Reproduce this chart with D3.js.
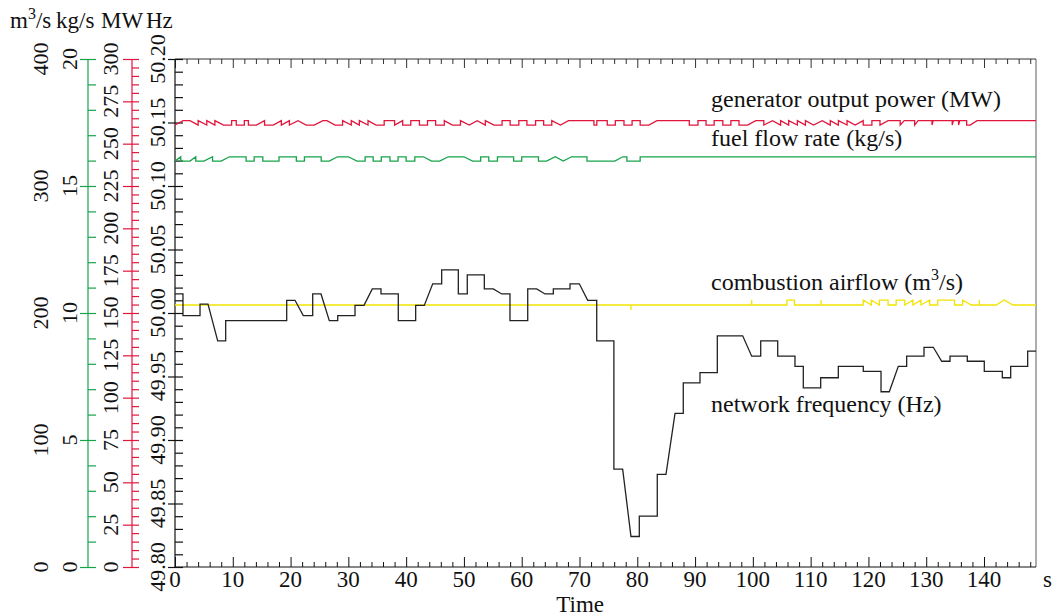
<!DOCTYPE html>
<html>
<head>
<meta charset="utf-8">
<script src="https://cdn.jsdelivr.net/npm/d3@7"></script>
<style>
  body { margin: 0; background: #fff; }
  svg text { font-family: "Liberation Serif", "DejaVu Serif", serif; fill: #111; }
</style>
</head>
<body>
<div id="chart"></div>
<script>
// ---- data (time in s) ----
const freqPoints = [
  [0, 50.015], [1.38, 50.015], [1.38, 49.998], [4.33, 49.998], [4.33, 50.007], [5.71, 50.007],
  [7.39, 49.978], [8.77, 49.978], [8.77, 49.994], [19.33, 49.994], [19.33, 50.010], [20.77, 50.010],
  [22.20, 49.998], [23.83, 49.998], [23.83, 50.015], [25.27, 50.015], [26.70, 49.994], [28.16, 49.994],
  [28.16, 49.998], [31.15, 49.998], [31.15, 50.006], [32.71, 50.006], [34.14, 50.019], [35.65, 50.019],
  [35.65, 50.015], [38.64, 50.015], [38.64, 49.994], [41.65, 49.994], [41.65, 50.006], [43.14, 50.006],
  [44.60, 50.023], [46.15, 50.023], [46.15, 50.034], [49.03, 50.034], [49.03, 50.015], [50.58, 50.015],
  [50.58, 50.030], [53.53, 50.030], [53.53, 50.019], [55.08, 50.019], [56.54, 50.015], [57.97, 50.015],
  [57.97, 49.994], [61.04, 49.994], [61.04, 50.019], [62.59, 50.019], [64.03, 50.015], [65.47, 50.015],
  [65.47, 50.019], [68.36, 50.019], [68.36, 50.023], [69.97, 50.023], [71.42, 50.010], [72.98, 50.010],
  [72.98, 49.978], [75.95, 49.978], [75.95, 49.877], [77.47, 49.877], [78.91, 49.824], [80.35, 49.824],
  [80.35, 49.840], [83.46, 49.840], [83.46, 49.873], [84.97, 49.873], [86.53, 49.921], [87.96, 49.921],
  [87.96, 49.945], [90.85, 49.945], [90.85, 49.953], [93.85, 49.953], [93.85, 49.982], [98.24, 49.982],
  [99.80, 49.966], [101.36, 49.966], [101.36, 49.978], [104.30, 49.978], [104.30, 49.966], [107.29, 49.966],
  [107.29, 49.958], [108.73, 49.958], [108.73, 49.941], [111.74, 49.941], [111.74, 49.949], [114.79, 49.949],
  [114.79, 49.958], [119.11, 49.958], [119.11, 49.954], [122.18, 49.954], [122.18, 49.938], [123.61, 49.938],
  [125.17, 49.958], [126.62, 49.958], [126.62, 49.966], [129.62, 49.966], [129.62, 49.973], [131.23, 49.973],
  [132.68, 49.962], [134.12, 49.962], [134.12, 49.966], [137.11, 49.966], [137.11, 49.962], [140.05, 49.962],
  [140.05, 49.954], [143.17, 49.954], [143.17, 49.949], [144.62, 49.949], [144.62, 49.958], [147.56, 49.958],
  [147.56, 49.970], [149, 49.970]
];

const powerPoints = [
  [0, 261.0], [1.4, 263.6], [2.6, 263.6], [4.0, 261.0], [4.0, 263.6], [5.5, 261.0], [5.5, 263.6],
  [6.9, 261.0], [6.9, 263.6], [8.4, 261.0], [9.8, 261.0], [9.8, 263.6], [10.6, 263.6], [10.6, 261.0],
  [12.0, 261.0], [12.0, 263.6], [12.7, 263.6], [12.7, 261.0], [14.1, 261.0], [15.5, 263.6], [15.5, 261.0],
  [17.0, 261.0], [18.4, 263.6], [18.4, 261.0], [19.8, 263.6], [19.8, 261.0], [21.3, 263.6], [22.7, 261.0],
  [24.1, 261.0], [25.6, 263.6], [26.3, 263.6], [27.7, 261.0], [29.0, 261.0], [29.0, 263.6], [30.5, 261.0],
  [30.5, 263.6], [31.9, 261.0], [31.9, 263.6], [33.4, 261.0], [33.4, 263.6], [34.8, 261.0], [36.2, 261.0],
  [36.2, 263.6], [38.0, 263.6], [38.0, 261.0], [39.4, 263.6], [39.4, 261.0], [40.8, 261.0], [40.8, 263.6],
  [42.3, 263.6], [42.3, 261.0], [43.7, 261.0], [43.7, 263.6], [45.1, 263.6], [45.1, 261.0], [46.6, 261.0],
  [46.6, 263.6], [48.0, 261.0], [49.4, 261.0], [49.4, 263.6], [50.9, 261.0], [52.3, 263.6], [53.7, 261.0],
  [53.7, 263.6], [55.2, 261.0], [56.6, 261.0], [56.6, 263.6], [58.0, 263.6], [58.0, 261.0], [59.5, 261.0],
  [59.5, 263.6], [60.9, 263.6], [60.9, 261.0], [62.4, 261.0], [62.4, 263.6], [63.8, 263.6], [63.8, 261.0],
  [65.2, 261.0], [65.2, 263.6], [66.7, 261.0], [68.1, 263.6], [72.5, 263.6], [72.5, 261.0], [73.0, 261.0],
  [73.0, 263.6], [74.8, 263.6], [74.8, 261.0], [76.2, 261.0], [76.2, 263.6], [77.7, 263.6], [77.7, 261.0],
  [79.1, 261.0], [79.1, 263.6], [80.5, 263.6], [80.5, 261.0], [82.0, 261.0], [83.4, 263.6], [89.0, 263.6],
  [89.0, 261.0], [90.5, 261.0], [90.5, 263.6], [91.9, 263.6], [91.9, 261.0], [93.3, 261.0], [93.3, 263.6],
  [94.8, 263.6], [94.8, 261.0], [96.2, 261.0], [96.2, 263.6], [97.6, 263.6], [97.6, 261.0], [99.1, 261.0],
  [100.5, 263.6], [101.9, 263.6], [101.9, 261.0], [103.4, 263.6], [104.8, 261.0], [104.8, 263.6],
  [106.2, 261.0], [106.2, 263.6], [107.7, 261.0], [107.7, 263.6], [109.1, 261.0], [109.1, 263.6],
  [110.5, 261.0], [112.0, 263.6], [113.4, 261.0], [113.4, 263.6], [114.8, 261.0], [114.8, 263.6],
  [116.3, 261.0], [116.3, 263.6], [117.7, 261.0], [119.1, 263.6], [119.1, 261.0], [120.6, 261.0],
  [120.6, 263.6], [122.0, 263.6], [122.0, 261.0], [123.4, 263.6], [125.5, 263.6], [125.5, 261.0],
  [126.2, 263.6], [128.0, 263.6], [128.0, 261.0], [128.6, 263.6], [131.0, 263.6], [131.0, 261.0],
  [131.2, 263.6], [134.5, 263.6], [134.5, 261.0], [134.7, 263.6], [135.6, 263.6], [135.6, 261.0],
  [135.8, 263.6], [137.0, 263.6], [137.0, 261.0], [137.6, 261.0], [138.8, 263.6], [149, 263.6]
];

const fuelPoints = [
  [0, 15.98], [1.0, 16.15], [1.0, 15.98], [2.6, 15.98], [3.6, 16.15], [3.6, 15.98], [5.0, 15.98],
  [6.5, 16.15], [6.5, 15.98], [8.0, 15.98], [9.4, 16.15], [12.3, 16.15], [12.3, 15.98], [13.7, 15.98],
  [13.7, 16.15], [15.2, 16.15], [15.2, 15.98], [18.0, 15.98], [18.0, 16.15], [21.0, 16.15], [21.0, 15.98],
  [22.4, 15.98], [22.4, 16.15], [25.3, 16.15], [25.3, 15.98], [26.7, 15.98], [28.1, 16.15], [30.0, 16.15],
  [31.5, 15.98], [32.9, 15.98], [32.9, 16.15], [34.3, 16.15], [34.3, 15.98], [35.7, 15.98], [35.7, 16.15],
  [37.2, 16.15], [37.2, 15.98], [38.6, 15.98], [38.6, 16.15], [40.0, 16.15], [40.0, 15.98], [41.5, 15.98],
  [41.5, 16.15], [43.0, 16.15], [44.4, 15.98], [45.8, 15.98], [47.3, 16.15], [50.0, 16.15], [51.5, 15.98],
  [52.9, 15.98], [52.9, 16.15], [54.3, 16.15], [54.3, 15.98], [55.8, 15.98], [55.8, 16.15], [58.6, 16.15],
  [58.6, 15.98], [60.0, 15.98], [60.0, 16.15], [62.9, 16.15], [62.9, 15.98], [64.3, 15.98], [65.8, 16.15],
  [67.2, 15.98], [68.6, 16.15], [71.3, 16.15], [71.3, 15.98], [76.1, 15.98], [77.5, 16.15], [78.2, 16.15],
  [78.2, 15.98], [80.5, 15.98], [80.5, 16.15], [149, 16.15]
];

const airPoints = [
  [0, 206.3], [78.9, 206.3], [78.9, 202.4], [78.9, 206.3], [99.8, 206.3], [99.8, 210.2], [99.8, 206.3],
  [105.9, 206.3], [105.9, 210.2], [107.2, 210.2], [107.2, 206.3], [111.8, 206.3], [111.8, 210.2],
  [111.8, 206.3], [119.1, 206.3], [119.1, 210.2], [120.5, 206.3], [120.5, 210.2], [121.9, 206.3],
  [121.9, 210.2], [123.4, 210.2], [123.4, 206.3], [124.8, 206.3], [124.8, 210.2], [126.3, 210.2],
  [126.3, 206.3], [127.7, 210.2], [127.7, 206.3], [129.1, 210.2], [129.1, 206.3], [130.6, 210.2],
  [130.6, 206.3], [132.0, 206.3], [132.0, 210.2], [134.9, 210.2], [134.9, 206.3], [136.3, 206.3],
  [136.3, 210.2], [137.8, 206.3], [139.2, 206.3], [139.2, 210.2], [139.2, 206.3], [142.1, 206.3],
  [143.5, 210.2], [145.0, 206.3], [149, 206.3]
];

const timeTicks = [0, 10, 20, 30, 40, 50, 60, 70, 80, 90, 100, 110, 120, 130, 140];
const hzTicks = [49.80, 49.85, 49.90, 49.95, 50.00, 50.05, 50.10, 50.15, 50.20];
const mwTicks = [0, 25, 50, 75, 100, 125, 150, 175, 200, 225, 250, 275, 300];
const kgTicks = [0, 5, 10, 15, 20];
const airTicks = [0, 100, 200, 300, 400];

const colors = { freq: "#222222", power: "#e0163c", fuel: "#16a34a", air: "#f2e400" };

// ---- layout ----
const width = 1053, height = 616;
const plotLeft = 175, plotRight = 1036, plotTop = 59, plotBottom = 567;

const svg = d3.select("#chart").append("svg")
  .attr("width", width)
  .attr("height", height);

const x = d3.scaleLinear().domain([0, 149]).range([plotLeft, plotRight]);
const yHz = d3.scaleLinear().domain([49.8, 50.2]).range([plotBottom, plotTop]);
const yMW = d3.scaleLinear().domain([0, 300]).range([plotBottom, plotTop]);
const yKg = d3.scaleLinear().domain([0, 20]).range([plotBottom, plotTop]);
const yAir = d3.scaleLinear().domain([0, 400]).range([plotBottom, plotTop]);

// minor tick helpers
function between(a, b, step) {
  const out = [];
  for (let v = a; v <= b + 1e-9; v += step) out.push(+v.toFixed(4));
  return out;
}
const timeMinor = between(0, 148, 2).filter(d => d % 10 !== 0);
const hzMinor = between(49.8, 50.2, 0.01).filter(d => Math.abs(d * 20 - Math.round(d * 20)) > 1e-6);
const mwMinor = between(0, 300, 5).filter(d => d % 25 !== 0);
const kgMinor = between(0, 20, 1).filter(d => d % 5 !== 0);

// vertical axis: line, ticks on both sides for majors, right side for minors
function vAxis(xPos, scale, major, minor, color, majLeft, tickRight) {
  const g = svg.append("g").attr("transform", `translate(${xPos},0)`).attr("color", color);
  g.append("g").call(d3.axisRight(scale).tickValues(minor).tickSizeInner(tickRight).tickSizeOuter(0).tickFormat(""));
  g.append("g").call(d3.axisRight(scale).tickValues(major).tickSizeInner(tickRight).tickSizeOuter(0).tickFormat(""));
  g.append("g").call(d3.axisLeft(scale).tickValues(major).tickSizeInner(majLeft).tickSizeOuter(0).tickFormat(""));
  g.selectAll("path.domain").remove();
  g.append("line").attr("y1", scale.range()[0]).attr("y2", scale.range()[1])
    .attr("stroke", color).attr("stroke-width", 1.2);
  g.selectAll(".tick line").attr("stroke-width", 1.2);
  return g;
}

function vLabels(xPos, scale, ticks, fmt) {
  svg.append("g").selectAll("text")
    .data(ticks)
    .join("text")
    .attr("transform", d => `translate(${xPos},${scale(d)}) rotate(-90)`)
    .attr("text-anchor", "middle")
    .style("font-size", "22px")
    .text(fmt);
}

// frame, right side
svg.append("line").attr("x1", plotRight).attr("x2", plotRight).attr("y1", plotTop).attr("y2", plotBottom)
  .attr("stroke", "#777").attr("stroke-width", 1.2);

// time axis (bottom + mirrored top)
const bottomAxis = svg.append("g").attr("transform", `translate(0,${plotBottom})`).attr("color", "#111");
bottomAxis.append("g").call(d3.axisTop(x).tickValues(timeMinor).tickSizeInner(5).tickSizeOuter(0).tickFormat(""));
bottomAxis.append("g").call(d3.axisTop(x).tickValues(timeTicks).tickSizeInner(10).tickSizeOuter(0).tickFormat(""));
bottomAxis.selectAll("path.domain").remove();
bottomAxis.append("line").attr("x1", plotLeft).attr("x2", plotRight).attr("stroke", "#111").attr("stroke-width", 1.2);

const topAxis = svg.append("g").attr("transform", `translate(0,${plotTop})`).attr("color", "#333");
topAxis.append("g").call(d3.axisBottom(x).tickValues(timeMinor).tickSizeInner(5).tickSizeOuter(0).tickFormat(""));
topAxis.append("g").call(d3.axisBottom(x).tickValues(timeTicks).tickSizeInner(9).tickSizeOuter(0).tickFormat(""));
topAxis.selectAll("path.domain").remove();
topAxis.append("line").attr("x1", plotLeft).attr("x2", plotRight).attr("stroke", "#333").attr("stroke-width", 1.2);

svg.append("g").selectAll("text")
  .data(timeTicks)
  .join("text")
  .attr("x", d => x(d))
  .attr("y", 587)
  .attr("text-anchor", "middle")
  .style("font-size", "23px")
  .text(d => d);

svg.append("text").attr("x", 1043).attr("y", 587).style("font-size", "23px").text("s");
svg.append("text").attr("x", 604).attr("y", 612).attr("text-anchor", "end").style("font-size", "23px").text("Time");

// vertical axes
vAxis(plotLeft, yHz, hzTicks, hzMinor, "#111", 7, 8);
vAxis(132, yMW, mwTicks, mwMinor, colors.power, 9, 7);
vAxis(88, yKg, kgTicks, kgMinor, colors.fuel, 8, 8);

vLabels(165, yHz, hzTicks, d3.format(".2f"));
vLabels(118, yMW, mwTicks, d => d);
vLabels(77, yKg, kgTicks, d => d);
vLabels(48, yAir, airTicks, d => d);

// unit titles
const units = svg.append("text").attr("y", 28).style("font-size", "23px");
units.append("tspan").attr("x", 10).text("m");
units.append("tspan").attr("dy", -9).style("font-size", "16px").text("3");
units.append("tspan").attr("dy", 9).text("/s");
units.append("tspan").attr("x", 56).text("kg/s");
units.append("tspan").attr("x", 101).text("MW");
units.append("tspan").attr("x", 146).text("Hz");

// series
const plot = svg.append("g");
function drawSeries(points, yScale, color, w) {
  plot.append("path")
    .datum(points)
    .attr("fill", "none")
    .attr("stroke", color)
    .attr("stroke-width", w)
    .attr("d", d3.line().x(d => x(d[0])).y(d => yScale(d[1])));
}
drawSeries(airPoints, yAir, colors.air, 1.3);
drawSeries(fuelPoints, yKg, colors.fuel, 1.3);
drawSeries(powerPoints, yMW, colors.power, 1.3);
drawSeries(freqPoints, yHz, colors.freq, 1.3);

// series labels
const labels = svg.append("g").style("font-size", "24px");
labels.append("text").attr("x", 711).attr("y", 107).text("generator output power (MW)");
labels.append("text").attr("x", 711).attr("y", 146).text("fuel flow rate (kg/s)");
const air = labels.append("text").attr("x", 711).attr("y", 290);
air.append("tspan").text("combustion airflow (m");
air.append("tspan").attr("dy", -10).style("font-size", "16px").text("3");
air.append("tspan").attr("dy", 10).text("/s)");
labels.append("text").attr("x", 711).attr("y", 412).text("network frequency (Hz)");
</script>
</body>
</html>
